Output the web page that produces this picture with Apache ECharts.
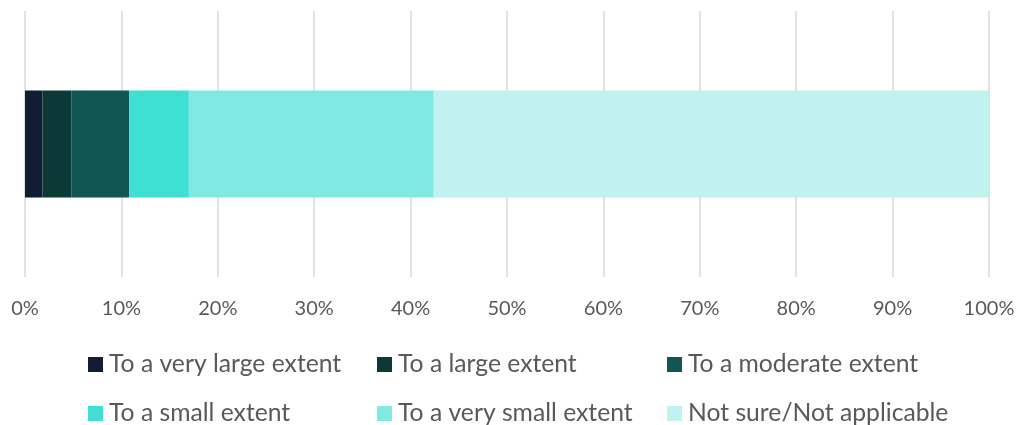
<!DOCTYPE html>
<html>
<head>
<meta charset="utf-8">
<script src="https://cdn.jsdelivr.net/npm/echarts@6/dist/echarts.min.js"></script>
<style>
html,body{margin:0;padding:0;background:#fff;}
#chart{width:1019px;height:425px;}
</style>
</head>
<body>
<div id="chart"></div>
<script>
var categories = ['Response'];
var seriesNames = ['To a very large extent','To a large extent','To a moderate extent','To a small extent','To a very small extent','Not sure/Not applicable'];
var veryLarge = [1.8];
var large = [3.0];
var moderate = [6.0];
var small = [6.2];
var verySmall = [25.4];
var notSure = [57.6];
var seriesValues = [veryLarge, large, moderate, small, verySmall, notSure];
var colors = ['#121c35','#0b3a36','#115651','#40dfd4','#80e9e2','#c0f3ef'];
var xTicks = [0,10,20,30,40,50,60,70,80,90,100];

var chart = echarts.init(document.getElementById('chart'));
var font = 'Lato';
var textColor = '#595959';
var legendLefts = [88, 377, 667, 88, 377, 667];
var legendTops = [352, 352, 352, 401, 401, 401];
function legendItem(i){
  return {
    left: legendLefts[i], top: legendTops[i], padding: 0, data: [seriesNames[i]],
    itemWidth: 15, itemHeight: 15, icon: 'rect', selectedMode: false,
    textStyle: {fontFamily: font, fontSize: 24.7, color: textColor, padding: [0,0,0,1]}
  };
}
var option = {
  animation: false,
  color: colors,
  grid: {left: 25, right: 30, top: 11, bottom: 148, containLabel: false},
  xAxis: {
    type: 'value', min: 0, max: 100, interval: 10,
    axisLine: {show: false}, axisTick: {show: false},
    splitLine: {lineStyle: {color: '#d9d9d9', width: 1.5}},
    axisLabel: {fontFamily: font, fontSize: 20, color: textColor, margin: 22,
      formatter: function(v){ return xTicks.indexOf(v) >= 0 ? v + '%' : ''; }}
  },
  yAxis: {
    type: 'category', data: categories,
    axisLine: {show: false}, axisTick: {show: false}, axisLabel: {show: false}
  },
  legend: seriesNames.map(function(n, i){ return legendItem(i); }),
  series: seriesNames.map(function(n, i){
    return {name: n, type: 'bar', stack: 'total', barWidth: 107, data: seriesValues[i]};
  })
};
chart.setOption(option);
</script>
</body>
</html>
